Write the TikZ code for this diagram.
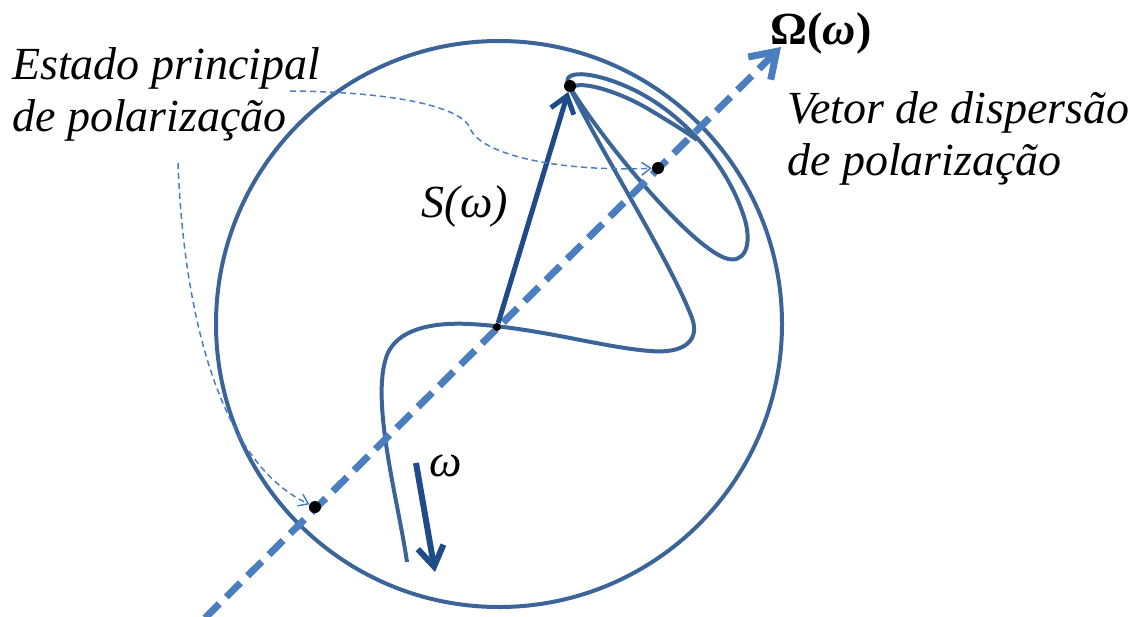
\documentclass[tikz,border=0pt]{standalone}
\usepackage{fontspec}
\newfontfamily\figfont{Liberation Serif}
\usetikzlibrary{arrows.meta}
\definecolor{curveblue}{HTML}{3B6499}
\definecolor{vecblue}{HTML}{1F4C88}
\definecolor{axisblue}{HTML}{4A7EBF}

\begin{document}
\begin{tikzpicture}[
    x=1pt, y=-1pt,
    lbl/.style={font=\figfont\fontsize{46}{52}\selectfont\itshape, align=left, inner sep=0pt},
    spot/.style={circle, fill=black, inner sep=0pt, minimum size=12pt},
    sphereline/.style={draw=curveblue, line width=4pt},
    trace/.style={draw=curveblue, line width=4pt},
    axisline/.style={draw=axisblue, line width=7pt, dash pattern=on 20pt off 10pt, -{Straight Barb[length=24pt, width=32pt]}},
    vecline/.style={draw=vecblue, line width=5pt, -{Straight Barb[length=16pt, width=24pt]}},
    freqline/.style={draw=vecblue, line width=6pt, -{Straight Barb[length=20pt, width=26pt]}},
    pointer/.style={draw=axisblue, line width=1.5pt, dash pattern=on 6pt off 4pt, -{Straight Barb[length=9pt, width=13pt]}}
]
    \useasboundingbox (0,0) rectangle (1139,616);

    % Esfera de Poincare
    \draw[sphereline] (499,324) circle[radius=283];

    % Trajetoria de S(w)
    \draw[trace] (407,562) .. controls (398,500) and (370,400) .. (387,355)
        .. controls (397,330) and (430,322) .. (470,324)
        .. controls (540,328) and (600,347) .. (650,351)
        .. controls (685,354) and (700,340) .. (692,318)
        .. controls (670,260) and (600,150) .. (568,84)
        .. controls (562,68) and (600,72) .. (640,93)
        .. controls (690,120) and (730,170) .. (745,220)
        .. controls (752,245) and (745,265) .. (725,258)
        .. controls (690,245) and (610,150) .. (573,92)
        .. controls (566,78) and (610,86) .. (650,110)
        .. controls (670,122) and (688,133) .. (697,140);

    % Eixo Omega
    \coordinate (axstart) at (205,618);
    \coordinate (axtip) at (781,47);
    \draw[axisline] (axstart) -- (axtip);

    % Pontos
    \node[spot, minimum size=8pt] (origin) at (497,327) {};
    \node[spot] (apex) at (570,86) {};
    \node[spot] (dotV) at (658,168) {};
    \node[spot] (dotP) at (315,507) {};

    % Vetores
    \draw[vecline] (origin) -- (apex);
    \coordinate (wstart) at (416,463);
    \coordinate (wend) at (435,572);
    \draw[freqline] (wstart) -- (wend);

    % Rotulos
    \node[font=\figfont\fontsize{46}{52}\selectfont\bfseries] (omega) at (821,33) {Ω(\textit{ω})};
    \node[lbl] (svec) at (465,206) {S(ω)};
    \node[lbl] (wlbl) at (446,466) {ω};
    \node[lbl, anchor=north west] (estado) at (12,47) {Estado principal\\de polarização};
    \node[lbl, anchor=north west] (vetor) at (787,91) {Vetor de dispersão\\de polarização};

    % Setas tracejadas
    \coordinate (pa) at (290,91);
    \coordinate (pb) at (178,163);
    \draw[pointer] (pa) .. controls (400,92) and (462,108) .. (470,128)
        .. controls (480,155) and (560,172) .. (dotV);
    \draw[pointer] (pb) .. controls (183,300) and (215,460) .. (dotP);
\end{tikzpicture}
\end{document}
